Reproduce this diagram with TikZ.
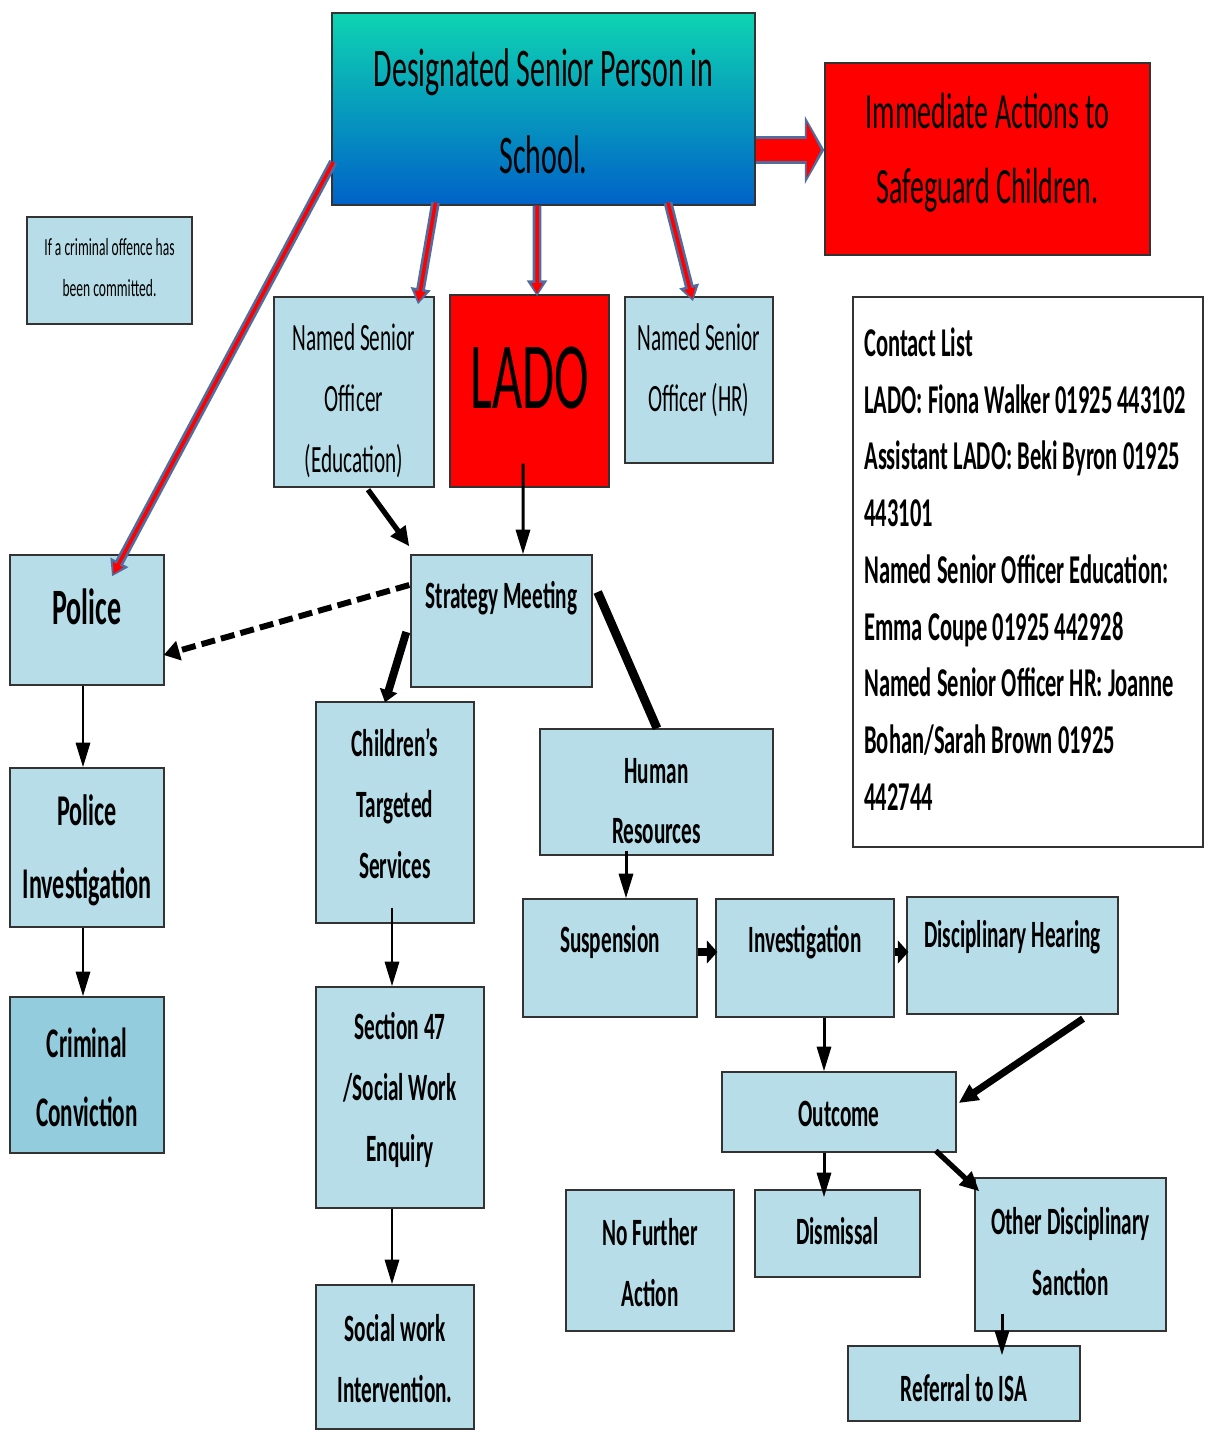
\documentclass[tikz,border=0pt]{standalone}
\usepackage{fontspec}
\setmainfont{Carlito}[FakeStretch=0.55]
\usetikzlibrary{arrows.meta,calc}

\definecolor{boxblue}{RGB}{183,222,232}
\definecolor{convblue}{RGB}{147,205,221}
\definecolor{edgeblue}{RGB}{79,110,160}
\definecolor{dsptop}{RGB}{14,212,178}
\definecolor{dspmid}{RGB}{22,186,226}
\definecolor{dspbot}{RGB}{0,98,200}

% #1 name, #2 style, #3/#4 top left, #5/#6 bottom right, #7 text y, #8 text
\newcommand*{\FlowBox}[8]{%
  \node [box, #2, minimum width=(#5-#3)*0.02cm, minimum height=(#6-#4)*0.02cm]
    (#1) at ({(#3+#5)/2},{(#4+#6)/2}) {};
  \node [boxtext, #2 txt] (#1-txt) at ({(#3+#5)/2},#7) {#8};
}

\tikzset{
  box/.style={draw=black!80, line width=0.8pt, fill=boxblue, inner sep=0pt},
  boxtext/.style={inner sep=0pt, align=center, text=black,
    font=\bfseries\fontsize{22}{34.6}\selectfont},
  plain/.style={}, plain txt/.style={},
  dsp/.style={top color=dsptop, middle color=dspmid, bottom color=dspbot},
  dsp txt/.style={font=\fontsize{31}{49.3}\selectfont},
  alert/.style={fill=red},
  alert txt/.style={font=\fontsize{29}{42.5}\selectfont},
  lado/.style={fill=red},
  lado txt/.style={font=\fontsize{54}{60}\selectfont},
  note/.style={}, note txt/.style={font=\fontsize{14}{23.2}\selectfont},
  nso/.style={}, nso txt/.style={font=\fontsize{22}{34.6}\selectfont},
  police/.style={}, police txt/.style={font=\bfseries\fontsize{29}{40}\selectfont},
  comic/.style={}, comic txt/.style={font=\bfseries\fontsize{25}{41.4}\selectfont},
  conv/.style={fill=convblue}, conv txt/.style={font=\bfseries\fontsize{24}{39}\selectfont},
  redarrow/.style={preaction={draw=edgeblue, line width=5pt, shorten >=0pt,
      -{Triangle[length=9pt,width=11pt]}},
    draw=red, line width=2pt, shorten >=1.5pt, -{Triangle[length=6pt,width=6pt]}},
  bigredarrow/.style={preaction={draw=edgeblue, line width=16pt, shorten >=0pt,
      -{Triangle[length=11pt,width=38pt]}},
    draw=red, line width=12pt, shorten >=2pt, -{Triangle[length=8pt,width=31pt]}},
  flow/.style={line width=1.7pt, -{Triangle[length=14pt,width=8pt]}},
  boldflow/.style={line width=3pt, -{Triangle[length=11pt,width=10pt]}},
  heavyflow/.style={line width=4.5pt, -{Triangle[length=7pt,width=10pt]}},
  stubflow/.style={line width=4pt, -{Triangle[length=6pt,width=13pt]}},
  dashflow/.style={line width=3.4pt, dash pattern=on 8pt off 3.5pt,
    -{Triangle[length=9pt,width=11pt]}},
  link/.style={line width=5pt},
}

\begin{document}
\begin{tikzpicture}[x=0.02cm, y=-0.02cm]
  \useasboundingbox (0,0) rectangle (1208,1436);

  \FlowBox{dsp}{dsp}{332}{13}{755}{205}{111.5}{Designated Senior Person in\\School.}
  \FlowBox{imm}{alert}{825}{63}{1150}{255}{152.5}{Immediate Actions to\\Safeguard Children.}
  \FlowBox{note}{note}{27}{217}{192}{324}{267.5}{If a criminal offence has\\been committed.}
  \FlowBox{nsoedu}{nso}{274}{297}{434}{487}{401}{Named Senior\\Officer\\(Education)}
  \FlowBox{lado}{lado}{450}{295}{609}{487}{378}{LADO}
  \FlowBox{nsohr}{nso}{625}{297}{773}{463}{370.5}{Named Senior\\Officer (HR)}
  \FlowBox{police}{police}{10}{555}{164}{685}{607}{Police}
  \FlowBox{strategy}{plain}{411}{555}{592}{687}{598}{Strategy Meeting}
  \FlowBox{children}{plain}{316}{702}{474}{923}{803.5}{Children’s\\Targeted\\Services}
  \FlowBox{hr}{plain}{540}{729}{773}{855}{801}{Human\\Resources}
  \FlowBox{policeinv}{comic}{10}{768}{164}{927}{850.5}{Police\\Investigation}
  \FlowBox{conviction}{conv}{10}{997}{164}{1153}{1077.5}{Criminal\\Conviction}
  \FlowBox{suspension}{plain}{523}{899}{697}{1017}{942}{Suspension}
  \FlowBox{investigation}{plain}{716}{899}{894}{1017}{942}{Investigation}
  \FlowBox{hearing}{plain}{907}{897}{1118}{1014}{937}{Disciplinary Hearing}
  \FlowBox{section}{plain}{316}{987}{484}{1208}{1090}{Section 47\\/Social Work\\Enquiry}
  \FlowBox{outcome}{plain}{722}{1072}{956}{1152}{1114}{Outcome}
  \FlowBox{nofurther}{plain}{566}{1190}{734}{1331}{1262.5}{No Further\\Action}
  \FlowBox{dismissal}{plain}{755}{1190}{920}{1277}{1231}{Dismissal}
  \FlowBox{sanction}{plain}{975}{1178}{1166}{1331}{1251.5}{Other Disciplinary\\Sanction}
  \FlowBox{referral}{plain}{848}{1346}{1080}{1421}{1388}{Referral to ISA}
  \FlowBox{socialwork}{plain}{316}{1285}{474}{1429}{1358.5}{Social work\\Intervention.}

  % contact list
  \node [box, fill=white, minimum width=350*0.02cm, minimum height=550*0.02cm]
    (contact) at (1028,572) {};
  \node [anchor=west, inner sep=0pt, align=left,
    font=\bfseries\fontsize{23.3}{32.3}\selectfont] (contact-txt) at (864,569)
    {Contact List\\
     LADO: Fiona Walker 01925 443102\\
     Assistant LADO: Beki Byron 01925\\
     443101\\
     Named Senior Officer Education:\\
     Emma Coupe 01925 442928\\
     Named Senior Officer HR: Joanne\\
     Bohan/Sarah Brown 01925\\
     442744};

  % arrows out of the DSP
  \draw [redarrow] ($(dsp.west)+(2,53)$) -- ($(police.north)+(25,22)$);
  \draw [redarrow] ($(dsp.south)+(-108,-3)$) -- ($(nsoedu.north)+(64,8)$);
  \draw [redarrow] ($(dsp.south)+(-6.5,0)$) -- ($(lado.north)+(7.5,2)$);
  \draw [redarrow] ($(dsp.south)+(124.5,-3)$) -- ($(nsohr.north)+(-6,5)$);
  \draw [bigredarrow] ($(dsp.east)+(0,41)$) -- ($(imm.west)+(0,-9)$);

  % strategy meeting
  \draw [boldflow] ($(nsoedu.south)+(14,2)$) -- ($(strategy.north west)+(-1,-8)$);
  \draw [flow] ($(lado.south)+(-6.5,-24)$) -- ($(strategy.north)+(21.5,0)$);
  \draw [dashflow] ($(strategy.west)+(-1,-36)$) -- ($(police.east)+(-1,35)$);
  \draw [heavyflow] ($(strategy.west)+(-4,11)$) -- ($(children.north)+(-10,1)$);
  \draw [link] ($(strategy.east)+(5,-29)$) -- ($(hr.north)+(0.5,0)$);

  % police branch
  \draw [flow] ($(police.south)+(-4,0)$) -- ($(policeinv.north)+(-4,0)$);
  \draw [flow] ($(policeinv.south)+(-4,0)$) -- ($(conviction.north)+(-4,0)$);

  % children's services branch
  \draw [flow] ($(children.south)+(-3,-16)$) -- ($(section.north)+(-8,0)$);
  \draw [flow] ($(section.south)+(-8,0)$) -- ($(socialwork.north)+(-3,0)$);

  % human resources branch
  \draw [flow] ($(hr.south)+(-30.5,-5)$) -- ($(suspension.north)+(16,0)$);
  \draw [stubflow] ($(suspension.east)+(0,-6)$) -- ($(investigation.west)+(2,-6)$);
  \draw [stubflow] ($(investigation.east)+(0,-6)$) -- ($(hearing.west)+(2,-3.5)$);
  \draw [flow] ($(investigation.south)+(19,0)$) -- ($(outcome.north)+(-15,0)$);
  \draw [boldflow, line width=4pt] ($(hearing.south)+(70.5,4)$) -- ($(outcome.east)+(2,-9)$);
  \draw [flow] ($(outcome.south)+(-15,0)$) -- ($(dismissal.north)+(-13.5,8)$);
  \draw [boldflow] ($(outcome.south east)+(-21,-2)$) -- ($(sanction.north west)+(5,14)$);
  \draw [flow] ($(sanction.south)+(-68.5,-18)$) -- ($(referral.north)+(38,10)$);
\end{tikzpicture}
\end{document}
